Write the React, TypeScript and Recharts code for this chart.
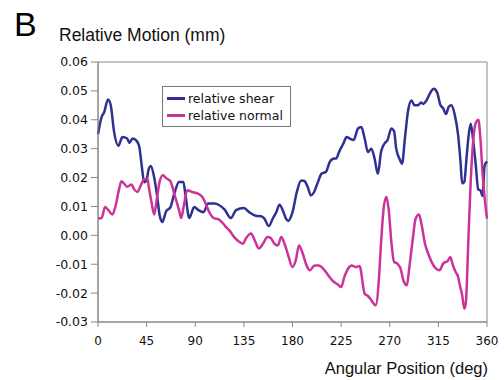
import { LineChart, Line, XAxis, YAxis, ReferenceArea } from 'recharts';

const shearDeg = [0, 3.4, 5.6, 9.3, 11.8, 14.8, 18.9, 22.6, 27, 29, 32, 35, 38, 40.5, 42.7, 44.8, 47, 49, 52, 55, 57, 59.5, 63, 67, 71, 75, 79, 81, 84.5, 89, 93, 97.6, 102, 108, 112, 117, 123, 127.7, 135, 140, 146, 151, 154, 158, 162, 165, 168, 171, 174, 176, 180, 184, 188, 191, 194, 197, 200, 203.6, 206.8, 211, 214.5, 217.6, 220.7, 223, 227, 230, 233, 236.6, 240.6, 243.7, 246.8, 249.8, 253, 256, 259, 262, 265, 268, 271.5, 274, 276, 279, 281.4, 284, 287, 290, 293, 296, 299, 301, 304, 307, 310.7, 313.8, 317, 319.4, 322, 324.6, 327, 330, 333.3, 335.5, 337, 339, 341, 343, 345, 347, 349.7, 351.8, 354, 356, 357.7, 360];
const shearVal = [0.035, 0.041, 0.0425, 0.047, 0.045, 0.036, 0.031, 0.034, 0.0335, 0.032, 0.0335, 0.033, 0.031, 0.024, 0.0184, 0.019, 0.023, 0.024, 0.02, 0.0128, 0.007, 0.0046, 0.0083, 0.0097, 0.015, 0.0185, 0.0185, 0.0138, 0.006, 0.0098, 0.0087, 0.008, 0.011, 0.011, 0.0105, 0.009, 0.006, 0.0087, 0.0095, 0.008, 0.0068, 0.0066, 0.0058, 0.0032, 0.006, 0.008, 0.0106, 0.0087, 0.0058, 0.005, 0.008, 0.015, 0.019, 0.0188, 0.0168, 0.0138, 0.015, 0.0185, 0.0213, 0.022, 0.0254, 0.0265, 0.0267, 0.0288, 0.0317, 0.034, 0.0335, 0.033, 0.037, 0.0375, 0.0335, 0.0288, 0.03, 0.0265, 0.0213, 0.029, 0.0317, 0.033, 0.037, 0.036, 0.03, 0.0265, 0.0248, 0.0335, 0.0432, 0.0467, 0.045, 0.045, 0.046, 0.0455, 0.0467, 0.049, 0.0507, 0.0495, 0.045, 0.044, 0.042, 0.0445, 0.045, 0.042, 0.0346, 0.0254, 0.018, 0.0185, 0.0265, 0.0346, 0.0386, 0.0335, 0.024, 0.016, 0.0155, 0.0136, 0.024, 0.0256];

const normalDeg = [0, 3.4, 6.5, 9.6, 13.3, 16.4, 19.5, 21.6, 24, 27, 31, 33.4, 36.5, 39.6, 42.7, 45.8, 47, 49.5, 52, 54, 57, 60, 63, 67, 71, 75, 77, 79.5, 82.6, 87, 92, 96.6, 100, 103, 107, 111.6, 114.6, 117.7, 121.6, 126, 131, 134, 137, 141.7, 145, 149, 152.5, 157, 160, 163.5, 166.5, 169.5, 172.7, 176, 180, 183, 186, 189, 193, 196, 200.5, 204.6, 208.3, 213, 217.6, 222, 225, 228, 231.5, 234.7, 238.6, 242, 246.8, 249.8, 253, 257, 260, 262, 264.7, 267, 269, 271.5, 274, 277, 280, 283, 285.8, 288, 291, 294, 297, 299.3, 302.6, 305.6, 308.7, 312.8, 316, 319.4, 324, 326, 328.5, 331, 333.3, 334.9, 337, 339, 340.5, 342.7, 344.9, 347.4, 349.9, 352, 354, 356, 358.2, 360];
const normalVal = [0.0058, 0.006, 0.0098, 0.0087, 0.0072, 0.0104, 0.016, 0.0187, 0.018, 0.0168, 0.0176, 0.016, 0.015, 0.0173, 0.0194, 0.0196, 0.0168, 0.0115, 0.0072, 0.0115, 0.0185, 0.0208, 0.0198, 0.0187, 0.0138, 0.0087, 0.006, 0.0104, 0.0156, 0.015, 0.0145, 0.0133, 0.0107, 0.008, 0.006, 0.0055, 0.0046, 0.0032, 0.0017, -0.0006, -0.0023, -0.0029, -0.001, 0.0006, -0.0017, -0.0046, -0.003, -0.0006, -0.001, -0.003, -0.0035, -0.0006, -0.003, -0.0069, -0.011, -0.0087, -0.0035, -0.0058, -0.0104, -0.0121, -0.0104, -0.0104, -0.0115, -0.0138, -0.0159, -0.017, -0.0179, -0.0144, -0.0115, -0.0104, -0.011, -0.0106, -0.0202, -0.021, -0.0225, -0.0242, -0.015, -0.0023, 0.0104, 0.0133, 0.009, -0.0023, -0.0092, -0.0098, -0.0115, -0.016, -0.0173, -0.0115, -0.0023, 0.0058, 0.0072, 0.004, -0.0029, -0.0063, -0.0092, -0.0115, -0.0121, -0.0098, -0.0087, -0.0075, -0.0104, -0.0127, -0.0144, -0.0173, -0.0207, -0.0254, -0.023, -0.0023, 0.0185, 0.0335, 0.0392, 0.04, 0.033, 0.0208, 0.0115, 0.0058];

const xTicks = [0, 45, 90, 135, 180, 225, 270, 315, 360];
const yTicks = [-0.03, -0.02, -0.01, 0, 0.01, 0.02, 0.03, 0.04, 0.05, 0.06];

const SHEAR = '#2e3192';
const NORMAL = '#cc3399';
const xTickFont = { fontFamily: 'DejaVu Sans, Verdana, sans-serif', fontSize: 12, fill: '#111' };
const yTickFont = { fontFamily: 'DejaVu Sans, Verdana, sans-serif', fontSize: 12.5, fill: '#111' };

const shearData = shearDeg.map((d, i) => ({ deg: d, v: shearVal[i] }));
const normalData = normalDeg.map((d, i) => ({ deg: d, v: normalVal[i] }));

const legendItems = [
  { label: 'relative shear', color: SHEAR },
  { label: 'relative normal', color: NORMAL },
];

function LegendBox() {
  return (
    <div style={{ position: 'absolute', left: 162, top: 86, border: '1px solid #777', background: '#fff', width: 129, height: 41, boxSizing: 'border-box', padding: '3px 0 0 4px', fontFamily: 'DejaVu Sans, Verdana, sans-serif', fontSize: 12.5, color: '#111' }}>
      {legendItems.map(it => (
        <div key={it.label} style={{ display: 'flex', alignItems: 'center', height: 17 }}>
          <span style={{ display: 'inline-block', width: 18, height: 2.5, background: it.color, marginRight: 3 }} />
          <span>{it.label}</span>
        </div>
      ))}
    </div>
  );
}

export default function App() {
  return (
    <div style={{ position: 'absolute', left: 0, top: 0, width: 504, height: 380, background: '#fff' }}>
      <div style={{ position: 'absolute', left: 14, top: 4, fontFamily: 'Liberation Sans, Arial, sans-serif', fontSize: 34, lineHeight: '40px', color: '#000' }}>B</div>
      <div style={{ position: 'absolute', left: 59, top: 25, fontFamily: 'Liberation Sans, Arial, sans-serif', fontSize: 17.5, lineHeight: '20px', color: '#111' }}>Relative Motion (mm)</div>
      <div style={{ position: 'absolute', right: 16, top: 358, fontFamily: 'Liberation Sans, Arial, sans-serif', fontSize: 16.5, lineHeight: '20px', color: '#111' }}>Angular Position (deg)</div>
      <LineChart width={504} height={380} margin={{ top: 62, right: 17, bottom: 27, left: 38 }}>
        <XAxis
          dataKey="deg"
          type="number"
          domain={[0, 360]}
          ticks={xTicks}
          allowDuplicatedCategory={false}
          tick={xTickFont}
          tickSize={5}
          tickMargin={9}
          stroke="#888"
          height={31}
        />
        <YAxis
          type="number"
          domain={[-0.03, 0.06]}
          ticks={yTicks}
          tickFormatter={(v: number) => v.toFixed(2)}
          tick={yTickFont}
          tickSize={7}
          tickMargin={3}
          stroke="#888"
          width={60}
          allowDataOverflow
        />
        <ReferenceArea x1={0} x2={360} y1={-0.03} y2={0.06} fill="none" stroke="#888" strokeWidth={1} />
        <Line data={shearData} dataKey="v" type="monotone" stroke={SHEAR} strokeWidth={2.5} dot={false} isAnimationActive={false} name="relative shear" />
        <Line data={normalData} dataKey="v" type="monotone" stroke={NORMAL} strokeWidth={2.5} dot={false} isAnimationActive={false} name="relative normal" />
      </LineChart>
      <LegendBox />
    </div>
  );
}
